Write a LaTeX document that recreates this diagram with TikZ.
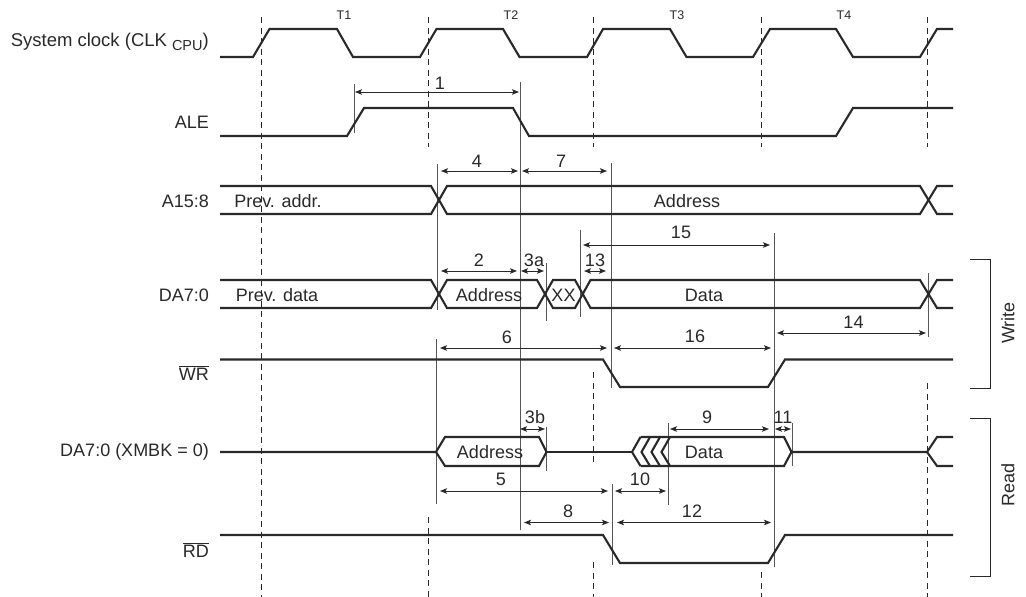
\documentclass[tikz,border=0pt]{standalone}
\usepackage{fontspec}
\setmainfont{Liberation Sans}
\usetikzlibrary{arrows.meta}
\definecolor{inkdark}{HTML}{2A2829}
\definecolor{inkgrey}{HTML}{55575A}
\tikzset{
    signal/.style={draw=inkdark, line width=2.1pt, line join=miter},
    guide/.style={draw=inkgrey, line width=1pt},
    clkguide/.style={draw=inkdark, line width=1pt, dash pattern=on 6pt off 4.5pt},
    measure/.style={draw=inkdark, line width=0.8pt, {Stealth[length=7pt,width=5.5pt,inset=1.5pt]}-{Stealth[length=7pt,width=5.5pt,inset=1.5pt]}},
    bracket/.style={draw=inkdark, line width=1pt},
    siglabel/.style={anchor=east, text=inkdark, font=\fontsize{18pt}{20pt}\selectfont, inner sep=0pt},
    fieldlabel/.style={text=inkdark, font=\fontsize{18pt}{20pt}\selectfont, inner sep=0pt},
    numlabel/.style={text=inkdark, font=\fontsize{18pt}{20pt}\selectfont, inner sep=0pt},
    tlabel/.style={text=inkdark, font=\fontsize{12.5pt}{14pt}\selectfont, inner sep=0pt}
}

\begin{document}
\begin{tikzpicture}[x=1pt, y=-1pt]
    \useasboundingbox (0,0) rectangle (1026,597);

    % Clock edges
    \draw [clkguide] (261.5,17) -- (261.5,597);
    \draw [clkguide] (428.5,17) -- (428.5,147);
    \draw [clkguide] (428.5,517) -- (428.5,597);
    \draw [clkguide] (593.5,17) -- (593.5,147);
    \draw [clkguide] (593.5,372) -- (593.5,465);
    \draw [clkguide] (593.5,562) -- (593.5,597);
    \draw [clkguide] (761.5,17) -- (761.5,147);
    \draw [clkguide] (761.5,572) -- (761.5,597);
    \draw [clkguide] (927.5,17) -- (927.5,147);
    \draw [clkguide] (927.5,383) -- (927.5,597);

    % Timing guides
    \draw [guide] (354.5,84) -- (354.5,133);
    \draw [guide] (520,82) -- (520,530);
    \draw [guide] (437.7,164) -- (437.7,310);
    \draw [guide] (436,339) -- (436,504);
    \draw [guide] (611,163) -- (611,388);
    \draw [guide] (546,263) -- (546,321);
    \draw [guide] (580.5,230) -- (580.5,317);
    \draw [guide] (774,233) -- (774,567);
    \draw [guide] (928.5,273) -- (928.5,337);
    \draw [guide] (546.5,427) -- (546.5,471);
    \draw [guide] (668,423) -- (668,505);
    \draw [guide] (792.5,423) -- (792.5,466);
    \draw [guide] (612,484) -- (612,565);

    % Waveforms
    \draw [signal] (220,57) -- (253,57) -- (269.5,29) -- (337,29) -- (353,57) -- (420,57) -- (436.5,29) -- (503,29) -- (519.5,57) -- (587,57) -- (603,29) -- (670,29) -- (686.5,57) -- (753,57) -- (770,29) -- (836,29) -- (853,57) -- (920,57) -- (937,29) -- (953,29);
    \draw [signal] (220,136) -- (347,136) -- (364,108) -- (513,108) -- (529,136) -- (836,136) -- (853,108) -- (953,108);
    \draw [signal] (220,186) -- (431,186) -- (447,214) -- (920,214) -- (937,186) -- (953,186);
    \draw [signal] (220,214) -- (431,214) -- (447,186) -- (920,186) -- (937,214) -- (953,214);
    \draw [signal] (220,280) -- (431,280) -- (447,308) -- (537,308) -- (553,280) -- (575,280) -- (590.5,308) -- (920,308) -- (937,280) -- (953,280);
    \draw [signal] (220,308) -- (431,308) -- (447,280) -- (537,280) -- (553,308) -- (575,308) -- (590.5,280) -- (920,280) -- (937,308) -- (953,308);
    \draw [signal] (220,359.5) -- (603,359.5) -- (620,387) -- (768,387) -- (785,359.5) -- (953,359.5);
    \draw [signal] (220,452) -- (436,452) -- (445,437) -- (539,437) -- (546.5,452) -- (539,466) -- (445,466) -- (436,452);
    \draw [signal] (546.5,452) -- (632,452);
    \draw [signal] (640.5,437) -- (632,452) -- (640.5,466);
    \draw [signal] (650,437) -- (641.5,452) -- (650,466);
    \draw [signal] (660,437) -- (651.5,452) -- (660,466);
    \draw [signal] (670,437) -- (661.5,452) -- (670,466);
    \draw [signal] (640.5,437) -- (784,437) -- (791.5,452) -- (784,466) -- (640.5,466);
    \draw [signal] (791.5,452) -- (927,452) -- (937,437) -- (953,437);
    \draw [signal] (927,452) -- (937,466) -- (953,466);
    \draw [signal] (220,535) -- (603,535) -- (620,563) -- (768,563) -- (785,535) -- (953,535);

    % Intervals
    \draw [measure] (355,92) -- (519,92);
    \draw [measure] (441,171) -- (518,171);
    \draw [measure] (522,171) -- (607,171);
    \draw [measure] (583,245) -- (770,245);
    \draw [measure] (441,271) -- (517,271);
    \draw [measure] (521,271) -- (544,271);
    \draw [measure] (584,271) -- (606,271);
    \draw [measure] (440,348) -- (607,348);
    \draw [measure] (614,348) -- (771,348);
    \draw [measure] (777,333) -- (926,333);
    \draw [measure] (520,429) -- (545,429);
    \draw [measure] (670,429) -- (769,429);
    \draw [measure] (775,429) -- (791,429);
    \draw [measure] (440,491) -- (608,491);
    \draw [measure] (615,491) -- (666,491);
    \draw [measure] (524,522.5) -- (609,522.5);
    \draw [measure] (617,522.5) -- (771,522.5);

    \node (num1) [numlabel] at (440,83) {1};
    \node (num4) [numlabel] at (477,161) {4};
    \node (num7) [numlabel] at (561,161) {7};
    \node (num15) [numlabel] at (681,232) {15};
    \node (num2) [numlabel] at (479,260) {2};
    \node (num3a) [numlabel] at (534,260) {3a};
    \node (num13) [numlabel] at (595,260) {13};
    \node (num6) [numlabel] at (507,337) {6};
    \node (num16) [numlabel] at (695,336) {16};
    \node (num14) [numlabel] at (853.5,322) {14};
    \node (num3b) [numlabel] at (535,417) {3b};
    \node (num9) [numlabel] at (707,417) {9};
    \node (num11) [numlabel] at (783,417) {11};
    \node (num5) [numlabel] at (501,479) {5};
    \node (num10) [numlabel] at (640,479) {10};
    \node (num8) [numlabel] at (568,511) {8};
    \node (num12) [numlabel] at (692,511) {12};

    \node (t1) [tlabel] at (344,15) {T1};
    \node (t2) [tlabel] at (511,15) {T2};
    \node (t3) [tlabel] at (677,15) {T3};
    \node (t4) [tlabel] at (844,15) {T4};

    % Signal names
    \node (clk) [siglabel, font=\fontsize{18.5pt}{20pt}\selectfont] at (209,42) {System clock (CLK\kern5pt\raisebox{-0.45ex}{\fontsize{14.5pt}{15pt}\selectfont CPU})};
    \node (ale) [siglabel] at (209,122) {ALE};
    \node (addr) [siglabel] at (209,201) {A15:8};
    \node (data) [siglabel] at (209,295) {DA7:0};
    \node (wr) [siglabel] at (209,373) {$\overline{\mbox{WR}}$};
    \node (dataread) [siglabel] at (209,452) {DA7:0 (XMBK = 0)};
    \node (rd) [siglabel] at (209,550) {$\overline{\mbox{RD}}$};

    % Bus contents
    \node (prevaddr) [fieldlabel] at (278,201) {Prev. addr.};
    \node (addrfield) [fieldlabel] at (687,201) {Address};
    \node (prevdata) [fieldlabel] at (277,295) {Prev. data};
    \node (wraddr) [fieldlabel] at (489,295) {Address};
    \node (xx) [fieldlabel] at (563.5,295) {XX};
    \node (wrdata) [fieldlabel] at (704,295) {Data};
    \node (rdaddr) [fieldlabel] at (490,452) {Address};
    \node (rddata) [fieldlabel] at (704,452) {Data};

    % Write and read cycles
    \draw [bracket] (970,259) -- (990.5,259) -- (990.5,388) -- (970,388);
    \draw [bracket] (970,418) -- (990.5,418) -- (990.5,576) -- (970,576);
    \node (write) [fieldlabel, rotate=90] at (1008,323) {Write};
    \node (read) [fieldlabel, rotate=90] at (1008,485) {Read};
\end{tikzpicture}
\end{document}
